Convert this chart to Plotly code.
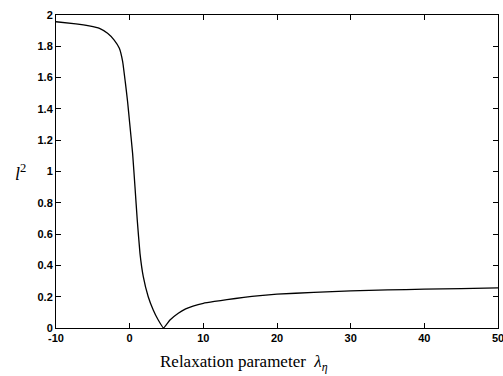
import plotly.graph_objects as go

lam = [-10, -7.3, -5.5, -4.1, -3.0, -2.1, -1.4, -0.95, -0.6, -0.28, 0.0, 0.4, 0.72, 1.03, 1.4, 1.85,
       2.52, 3.2, 3.88, 4.6, 5.47, 6.6, 7.6, 8.6, 10, 11.5, 13.2, 15.5, 17.7, 20, 25, 30, 35, 40, 45, 50]
l2 = [1.957, 1.943, 1.930, 1.915, 1.883, 1.840, 1.787, 1.702, 1.574, 1.446, 1.31, 1.116, 0.903, 0.690,
      0.477, 0.328, 0.200, 0.115, 0.051, 0.0, 0.051, 0.094, 0.122, 0.140, 0.158, 0.170, 0.181, 0.196,
      0.207, 0.216, 0.228, 0.237, 0.243, 0.248, 0.252, 0.256]

xticks = [-10, 0, 10, 20, 30, 40, 50]
yticks = [0, 0.2, 0.4, 0.6, 0.8, 1, 1.2, 1.4, 1.6, 1.8, 2]
yticklabels = ["0", "0.2", "0.4", "0.6", "0.8", "1", "1.2", "1.4", "1.6", "1.8", "2"]

fig = go.Figure()
fig.add_trace(go.Scatter(x=lam, y=l2, mode="lines", line=dict(color="black", width=1.3, shape="spline", smoothing=0.3),
                         showlegend=False, hoverinfo="skip"))

tickfont = dict(family="Liberation Sans, Arial", size=11, color="black", weight="bold")
fig.update_layout(
    width=503, height=376,
    margin=dict(l=56, r=5, t=15, b=48),
    paper_bgcolor="white", plot_bgcolor="white",
    xaxis=dict(range=[-10, 50], tickvals=xticks, ticktext=[str(v) for v in xticks], automargin=False,
               ticks="inside", ticklen=5, tickcolor="black", showline=True, linecolor="black", linewidth=1,
               mirror="ticks", showgrid=False, zeroline=False, tickfont=tickfont, ticklabeloverflow="allow"),
    yaxis=dict(range=[0, 2], tickvals=yticks, ticktext=yticklabels, automargin=False,
               ticks="inside", ticklen=5, tickcolor="black", showline=True, linecolor="black", linewidth=1,
               mirror="ticks", showgrid=False, zeroline=False, tickfont=tickfont),
    annotations=[
        dict(text="Relaxation parameter  <i>λ</i><sub><i>η</i></sub>", xref="paper", yref="paper",
             x=0.425, y=-0.112, xanchor="center", yanchor="middle", showarrow=False,
             font=dict(family="Liberation Serif, Times New Roman", size=17, color="black")),
        dict(text="<i>l</i><sup>2</sup>", xref="paper", yref="paper",
             x=-0.081, y=0.498, xanchor="center", yanchor="middle", showarrow=False,
             font=dict(family="Liberation Serif, Times New Roman", size=18, color="black")),
    ],
)

fig.write_html("out.html", config={"displayModeBar": False},
               post_script="document.body.style.margin='0px';document.body.style.overflow='hidden';")
